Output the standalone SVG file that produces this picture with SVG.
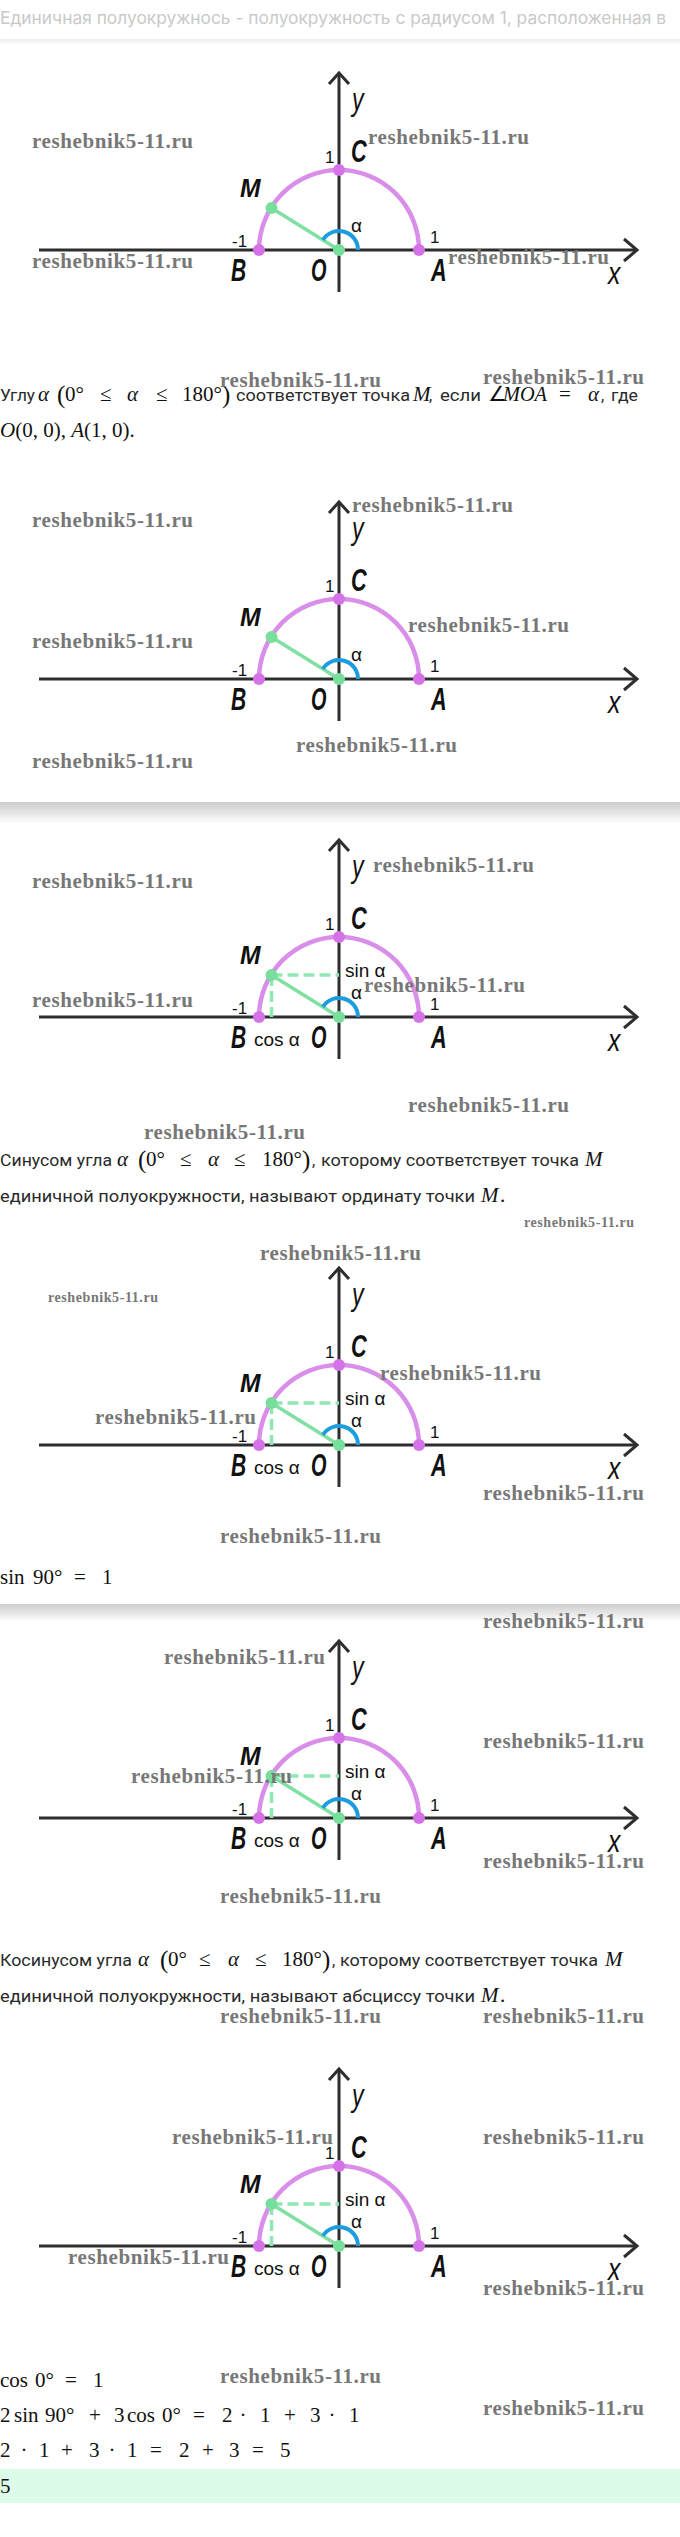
<svg xmlns="http://www.w3.org/2000/svg" xmlns:xlink="http://www.w3.org/1999/xlink" width="680" height="2537" viewBox="0 0 680 2537">
<style>
.ax{stroke:#2e2e2e;stroke-width:3;fill:none}
.arc{stroke:#d98fe9;stroke-width:4.5;fill:none}
.om{stroke:#80e0a2;stroke-width:3.5}
.ang{stroke:#1d9de0;stroke-width:4;fill:none}
.dash{stroke:#8ee8b4;stroke-width:3.5;stroke-dasharray:11 5}
.pv{fill:#d672e8}
.pg{fill:#78de9c}
.lab{font-family:"Liberation Sans",Arial,sans-serif;font-style:italic;font-weight:bold;fill:#111}
.lx{font-family:"Liberation Sans",Arial,sans-serif;font-style:italic;fill:#111}
.num{font-family:"Liberation Sans",Arial,sans-serif;font-size:17px;fill:#111}
.sl{font-family:"Liberation Sans",Arial,sans-serif;font-size:19px;fill:#111}
.wm{font-family:"Liberation Serif",serif;font-weight:bold;font-size:21px;fill:#777}
.wms{font-family:"Liberation Serif",serif;font-weight:bold;font-size:14px;fill:#777}
.ru{font-family:Roboto,"Liberation Sans",sans-serif;font-size:16.5px;fill:#2a2a2a}
.m{font-family:"Liberation Serif",serif;font-size:21px;fill:#111}
.mi{font-family:"Liberation Serif",serif;font-size:21px;font-style:italic;fill:#111}
.par{font-family:"Liberation Serif",serif;font-size:25px;fill:#111}
.title{font-family:Inter,"Liberation Sans",sans-serif;font-size:17px;fill:#c9c9c9}
</style>
<defs>
<linearGradient id="sh" x1="0" y1="0" x2="0" y2="1">
<stop offset="0" stop-color="#cdcdcd"/>
<stop offset="1" stop-color="#ffffff"/>
</linearGradient>
<linearGradient id="shl" x1="0" y1="0" x2="0" y2="1">
<stop offset="0" stop-color="#ececec"/>
<stop offset="1" stop-color="#ffffff"/>
</linearGradient>
<g id="dLines">
<line class="ax" x1="-300" y1="0" x2="298" y2="0"/>
<polyline class="ax" points="285,-11 298,0 285,11"/>
<line class="ax" x1="0" y1="42" x2="0" y2="-177"/>
<polyline class="ax" points="-10,-166 0,-177 10,-166"/>
<path class="arc" d="M-80,0 A80,80 0 0 1 80,0"/>
<line class="om" x1="0" y1="0" x2="-67.5" y2="-42"/>
<path class="ang" d="M19,0 A19,19 0 0 0 -16.1,-10.1"/>
</g>
<g id="dDash">
<line class="dash" x1="-67.5" y1="-42" x2="0" y2="-42"/>
<line class="dash" x1="-67.5" y1="-42" x2="-67.5" y2="0"/>
</g>
<g id="dPts">
<circle class="pv" cx="-80" cy="0" r="6"/>
<circle class="pv" cx="80" cy="0" r="6"/>
<circle class="pv" cx="0" cy="-80" r="6"/>
<circle class="pg" cx="-67.5" cy="-42" r="6"/>
<circle class="pg" cx="0" cy="0" r="6"/>
<text class="lx" font-size="31" transform="translate(13,-140) scale(0.75,1)">y</text>
<text class="lab" font-size="31" transform="translate(12,-88) scale(0.7,1)">C</text>
<text class="num" x="-14" y="-87">1</text>
<text class="lab" font-size="26" transform="translate(-99,-53) scale(0.95,1)">M</text>
<text class="sl" x="12" y="-18">α</text>
<text class="num" x="-107" y="-3">-1</text>
<text class="num" x="91" y="-7">1</text>
<text class="lab" font-size="31" transform="translate(-108,31) scale(0.68,1)">B</text>
<text class="lab" font-size="31" transform="translate(-28,31) scale(0.64,1)">O</text>
<text class="lab" font-size="31" transform="translate(92,31) scale(0.7,1)">A</text>
<text class="lx" font-size="31" transform="translate(269,34) scale(0.8,1)">x</text>
</g>
<g id="dSC">
<text class="sl" x="6" y="-40">sin α</text>
<text class="sl" x="-85" y="29">cos α</text>
</g>
</defs>

<g id="header">
<rect x="0" y="0" width="680" height="39" fill="#ffffff"/>
<text class="title" x="0" y="24" textLength="666" lengthAdjust="spacingAndGlyphs">Единичная полуокружнось - полуокружность с радиусом 1, расположенная в</text>
<rect x="0" y="39" width="680" height="6" fill="url(#shl)"/>
</g>

<g id="separators">
<rect x="0" y="802" width="680" height="22" fill="url(#sh)"/>
<rect x="0" y="1604" width="680" height="18" fill="url(#sh)"/>
</g>

<g id="diagram-1" transform="translate(339,250)">
<use xlink:href="#dLines"/><use xlink:href="#dPts"/>
</g>
<g id="diagram-2" transform="translate(339,679)">
<use xlink:href="#dLines"/><use xlink:href="#dPts"/>
</g>
<g id="diagram-3" transform="translate(339,1017)">
<use xlink:href="#dLines"/><use xlink:href="#dDash"/><use xlink:href="#dPts"/><use xlink:href="#dSC"/>
</g>
<g id="diagram-4" transform="translate(339,1445)">
<use xlink:href="#dLines"/><use xlink:href="#dDash"/><use xlink:href="#dPts"/><use xlink:href="#dSC"/>
</g>
<g id="diagram-5" transform="translate(339,1818)">
<use xlink:href="#dLines"/><use xlink:href="#dDash"/><use xlink:href="#dPts"/><use xlink:href="#dSC"/>
</g>
<g id="diagram-6" transform="translate(339,2246)">
<use xlink:href="#dLines"/><use xlink:href="#dDash"/><use xlink:href="#dPts"/><use xlink:href="#dSC"/>
</g>

<g id="text-1">
<text class="ru" x="0" y="401" textLength="35" lengthAdjust="spacingAndGlyphs">Углу</text>
<text class="mi" x="38" y="401">α</text>
<text class="par" x="57" y="403">(</text>
<text class="m" x="65" y="401">0°</text>
<text class="m" x="100" y="401">≤</text>
<text class="mi" x="127" y="401">α</text>
<text class="m" x="156" y="401">≤</text>
<text class="m" x="182" y="401">180°</text>
<text class="par" x="222" y="403">)</text>
<text class="ru" x="236" y="401" textLength="174" lengthAdjust="spacingAndGlyphs">соответствует точка</text>
<text class="mi" x="413" y="401">M</text>
<text class="ru" x="429" y="401">,</text>
<text class="ru" x="440" y="401" textLength="41" lengthAdjust="spacingAndGlyphs">если</text>
<text class="m" x="488" y="401">∠</text>
<text class="mi" x="503" y="401" textLength="44" lengthAdjust="spacingAndGlyphs">MOA</text>
<text class="m" x="559" y="401">=</text>
<text class="mi" x="588" y="401">α</text>
<text class="ru" x="601" y="401">,</text>
<text class="ru" x="611" y="401" textLength="27" lengthAdjust="spacingAndGlyphs">где</text>
<text class="m" x="0" y="437"><tspan font-style="italic">O</tspan>(0, 0), <tspan font-style="italic">A</tspan>(1, 0).</text>
</g>

<g id="text-2">
<text class="ru" x="0" y="1166" textLength="112" lengthAdjust="spacingAndGlyphs">Синусом угла</text>
<text class="mi" x="117" y="1166">α</text>
<text class="par" x="138" y="1168">(</text>
<text class="m" x="146" y="1166">0°</text>
<text class="m" x="180" y="1166">≤</text>
<text class="mi" x="208" y="1166">α</text>
<text class="m" x="234" y="1166">≤</text>
<text class="m" x="262" y="1166">180°</text>
<text class="par" x="302" y="1168">)</text>
<text class="ru" x="312" y="1166">,</text>
<text class="ru" x="321" y="1166" textLength="258" lengthAdjust="spacingAndGlyphs">которому соответствует точка</text>
<text class="mi" x="585" y="1166">M</text>
<text class="ru" x="0" y="1202" textLength="475" lengthAdjust="spacingAndGlyphs">единичной полуокружности, называют ординату точки</text>
<text class="mi" x="481" y="1202">M</text>
<text class="m" x="500" y="1202">.</text>
</g>

<g id="text-3">
<text class="m" x="0" y="1584">sin</text>
<text class="m" x="33" y="1584">90°</text>
<text class="m" x="74" y="1584">=</text>
<text class="m" x="102" y="1584">1</text>
</g>

<g id="text-4">
<text class="ru" x="0" y="1966" textLength="132" lengthAdjust="spacingAndGlyphs">Косинусом угла</text>
<text class="mi" x="138" y="1966">α</text>
<text class="par" x="160" y="1968">(</text>
<text class="m" x="168" y="1966">0°</text>
<text class="m" x="199" y="1966">≤</text>
<text class="mi" x="228" y="1966">α</text>
<text class="m" x="255" y="1966">≤</text>
<text class="m" x="282" y="1966">180°</text>
<text class="par" x="322" y="1968">)</text>
<text class="ru" x="332" y="1966">,</text>
<text class="ru" x="340" y="1966" textLength="258" lengthAdjust="spacingAndGlyphs">которому соответствует точка</text>
<text class="mi" x="605" y="1966">M</text>
<text class="ru" x="0" y="2002" textLength="475" lengthAdjust="spacingAndGlyphs">единичной полуокружности, называют абсциссу точки</text>
<text class="mi" x="481" y="2002">M</text>
<text class="m" x="500" y="2002">.</text>
</g>

<g id="text-5">
<text class="m" x="0" y="2387">cos</text>
<text class="m" x="35" y="2387">0°</text>
<text class="m" x="65" y="2387">=</text>
<text class="m" x="93" y="2387">1</text>
<text class="m" x="0" y="2422">2</text>
<text class="m" x="14" y="2422">sin</text>
<text class="m" x="45" y="2422">90°</text>
<text class="m" x="89" y="2422">+</text>
<text class="m" x="114" y="2422">3</text>
<text class="m" x="127" y="2422">cos</text>
<text class="m" x="162" y="2422">0°</text>
<text class="m" x="193" y="2422">=</text>
<text class="m" x="222" y="2422">2</text>
<text class="m" x="243" y="2422" text-anchor="middle">·</text>
<text class="m" x="260" y="2422">1</text>
<text class="m" x="284" y="2422">+</text>
<text class="m" x="310" y="2422">3</text>
<text class="m" x="332" y="2422" text-anchor="middle">·</text>
<text class="m" x="349" y="2422">1</text>
<text class="m" x="0" y="2457">2</text>
<text class="m" x="24" y="2457" text-anchor="middle">·</text>
<text class="m" x="39" y="2457">1</text>
<text class="m" x="61" y="2457">+</text>
<text class="m" x="89" y="2457">3</text>
<text class="m" x="112" y="2457" text-anchor="middle">·</text>
<text class="m" x="127" y="2457">1</text>
<text class="m" x="150" y="2457">=</text>
<text class="m" x="179" y="2457">2</text>
<text class="m" x="202" y="2457">+</text>
<text class="m" x="229" y="2457">3</text>
<text class="m" x="252" y="2457">=</text>
<text class="m" x="280" y="2457">5</text>
</g>

<g id="answer">
<rect x="0" y="2469" width="680" height="34" fill="#dcfbe9"/>
<text class="m" x="0" y="2493">5</text>
</g>

<g id="watermarks">
<text class="wm" x="32" y="148" textLength="161">reshebnik5-11.ru</text>
<text class="wm" x="368" y="144" textLength="161">reshebnik5-11.ru</text>
<text class="wm" x="32" y="268" textLength="161">reshebnik5-11.ru</text>
<text class="wm" x="448" y="264" textLength="161">reshebnik5-11.ru</text>
<text class="wm" x="220" y="387" textLength="161">reshebnik5-11.ru</text>
<text class="wm" x="483" y="384" textLength="161">reshebnik5-11.ru</text>
<text class="wm" x="352" y="512" textLength="161">reshebnik5-11.ru</text>
<text class="wm" x="32" y="527" textLength="161">reshebnik5-11.ru</text>
<text class="wm" x="408" y="632" textLength="161">reshebnik5-11.ru</text>
<text class="wm" x="32" y="648" textLength="161">reshebnik5-11.ru</text>
<text class="wm" x="296" y="752" textLength="161">reshebnik5-11.ru</text>
<text class="wm" x="32" y="768" textLength="161">reshebnik5-11.ru</text>
<text class="wm" x="373" y="872" textLength="161">reshebnik5-11.ru</text>
<text class="wm" x="32" y="888" textLength="161">reshebnik5-11.ru</text>
<text class="wm" x="364" y="992" textLength="161">reshebnik5-11.ru</text>
<text class="wm" x="32" y="1007" textLength="161">reshebnik5-11.ru</text>
<text class="wm" x="408" y="1112" textLength="161">reshebnik5-11.ru</text>
<text class="wm" x="144" y="1139" textLength="161">reshebnik5-11.ru</text>
<text class="wms" x="524" y="1227" textLength="110">reshebnik5-11.ru</text>
<text class="wm" x="260" y="1260" textLength="161">reshebnik5-11.ru</text>
<text class="wms" x="48" y="1302" textLength="110">reshebnik5-11.ru</text>
<text class="wm" x="380" y="1380" textLength="161">reshebnik5-11.ru</text>
<text class="wm" x="95" y="1424" textLength="161">reshebnik5-11.ru</text>
<text class="wm" x="483" y="1500" textLength="161">reshebnik5-11.ru</text>
<text class="wm" x="220" y="1543" textLength="161">reshebnik5-11.ru</text>
<text class="wm" x="483" y="1628" textLength="161">reshebnik5-11.ru</text>
<text class="wm" x="164" y="1664" textLength="161">reshebnik5-11.ru</text>
<text class="wm" x="483" y="1748" textLength="161">reshebnik5-11.ru</text>
<text class="wm" x="131" y="1783" textLength="161">reshebnik5-11.ru</text>
<text class="wm" x="483" y="1868" textLength="161">reshebnik5-11.ru</text>
<text class="wm" x="220" y="1903" textLength="161">reshebnik5-11.ru</text>
<text class="wm" x="220" y="2023" textLength="161">reshebnik5-11.ru</text>
<text class="wm" x="483" y="2023" textLength="161">reshebnik5-11.ru</text>
<text class="wm" x="172" y="2144" textLength="161">reshebnik5-11.ru</text>
<text class="wm" x="483" y="2144" textLength="161">reshebnik5-11.ru</text>
<text class="wm" x="68" y="2264" textLength="161">reshebnik5-11.ru</text>
<text class="wm" x="483" y="2295" textLength="161">reshebnik5-11.ru</text>
<text class="wm" x="220" y="2383" textLength="161">reshebnik5-11.ru</text>
<text class="wm" x="483" y="2415" textLength="161">reshebnik5-11.ru</text>
</g>
</svg>
